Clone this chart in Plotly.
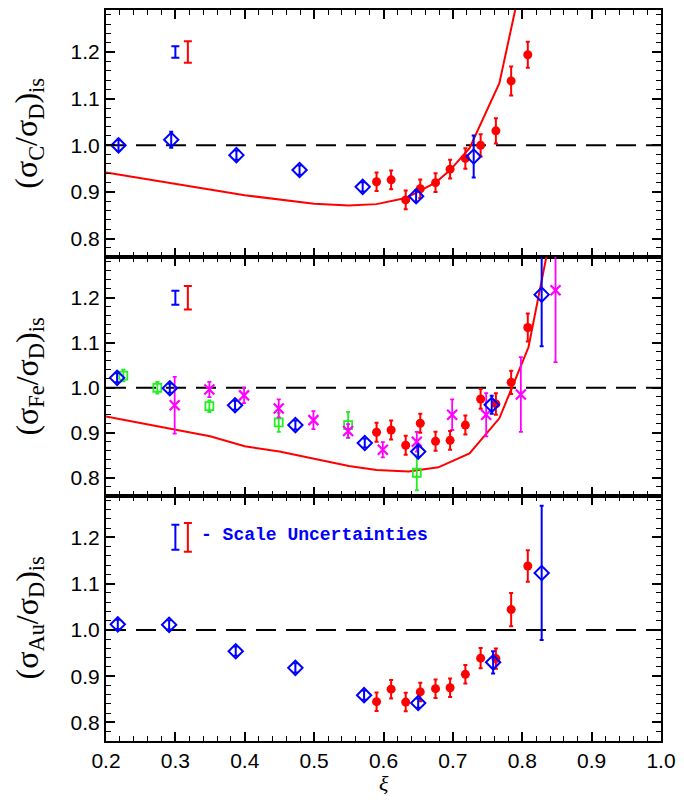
import plotly.graph_objects as go

# ---------------- data ----------------
red_x = [0.590, 0.611, 0.632, 0.653, 0.675, 0.696, 0.718, 0.740, 0.762, 0.784, 0.808]

# Carbon panel
blue_C_x = [0.218, 0.294, 0.388, 0.479, 0.570, 0.647, 0.730]
blue_C_y = [1.000, 1.012, 0.979, 0.947, 0.911, 0.891, 0.976]
blue_C_e = [0.012, 0.017, 0.010, 0.010, 0.010, 0.012, 0.045]
red_C_y = [0.922, 0.926, 0.883, 0.907, 0.920, 0.949, 0.972, 1.000, 1.031, 1.138, 1.194]
red_C_e = [0.020, 0.020, 0.020, 0.020, 0.020, 0.020, 0.022, 0.024, 0.027, 0.031, 0.028]
curve_C_x = [0.20, 0.30, 0.40, 0.50, 0.55, 0.59, 0.632, 0.653, 0.675, 0.696, 0.724, 0.767, 0.80]
curve_C_y = [0.942, 0.917, 0.893, 0.875, 0.871, 0.874, 0.887, 0.903, 0.920, 0.947, 0.994, 1.133, 1.36]

# Iron panel
blue_Fe_x = [0.216, 0.292, 0.386, 0.473, 0.573, 0.650, 0.756, 0.828]
blue_Fe_y = [1.022, 0.999, 0.961, 0.917, 0.877, 0.858, 0.962, 1.207]
blue_Fe_e = [0.010, 0.010, 0.010, 0.010, 0.010, 0.012, 0.020, 0.115]
green_Fe_x = [0.225, 0.274, 0.349, 0.449, 0.549, 0.648]
green_Fe_y = [1.027, 1.000, 0.959, 0.923, 0.917, 0.811]
green_Fe_e = [0.013, 0.013, 0.013, 0.021, 0.029, 0.039]
mag_Fe_x = [0.299, 0.349, 0.399, 0.449, 0.499, 0.549, 0.599, 0.648, 0.699, 0.748, 0.798, 0.848]
mag_Fe_y = [0.961, 0.996, 0.983, 0.954, 0.928, 0.904, 0.862, 0.880, 0.940, 0.940, 0.985, 1.217]
mag_Fe_e = [0.063, 0.017, 0.017, 0.020, 0.020, 0.015, 0.017, 0.022, 0.034, 0.048, 0.083, 0.160]
red_Fe_y = [0.901, 0.906, 0.872, 0.921, 0.881, 0.883, 0.917, 0.975, 0.964, 1.012, 1.134]
red_Fe_e = [0.021, 0.021, 0.021, 0.021, 0.021, 0.021, 0.021, 0.022, 0.024, 0.026, 0.031]
curve_Fe_x = [0.20, 0.30, 0.35, 0.40, 0.45, 0.50, 0.55, 0.59, 0.636, 0.679, 0.724, 0.767, 0.809, 0.85]
curve_Fe_y = [0.936, 0.907, 0.892, 0.870, 0.858, 0.842, 0.826, 0.817, 0.814, 0.823, 0.854, 0.932, 1.090, 1.41]

# Gold panel
blue_Au_x = [0.217, 0.291, 0.387, 0.473, 0.572, 0.650, 0.758, 0.828]
blue_Au_y = [1.012, 1.011, 0.954, 0.918, 0.859, 0.842, 0.930, 1.123]
blue_Au_e = [0.010, 0.010, 0.010, 0.010, 0.010, 0.010, 0.024, 0.145]
red_Au_y = [0.845, 0.872, 0.844, 0.866, 0.873, 0.875, 0.904, 0.939, 0.938, 1.044, 1.138]
red_Au_e = [0.020, 0.020, 0.020, 0.020, 0.020, 0.020, 0.020, 0.022, 0.022, 0.036, 0.034]

# scale uncertainty bars (blue, red)
scale_x = [0.300, 0.318]
scale_y = [1.2, 1.2]
scale_C_e = [0.0125, 0.023]
scale_Fe_e = [0.0155, 0.026]
scale_Au_e = [0.027, 0.031]

x_range = [0.2, 1.0]
ref_y = [1.0, 1.0]
x_ticks = [0.2, 0.3, 0.4, 0.5, 0.6, 0.7, 0.8, 0.9, 1.0]
y_ticks = [0.8, 0.9, 1.0, 1.1, 1.2]

titles = ["(σ<sub>C</sub>/σ<sub>D</sub>)<sub>is</sub>",
          "(σ<sub>Fe</sub>/σ<sub>D</sub>)<sub>is</sub>",
          "(σ<sub>Au</sub>/σ<sub>D</sub>)<sub>is</sub>"]

# ---------------- figure ----------------
BLUE = "#0000ff"
RED = "#ff0000"
GREEN = "#22ee22"
MAG = "#ff00ff"

fig = go.Figure()


def add_panel(k, curve_x, curve_y, blue_x, blue_y, blue_e, red_y, red_e, scale_e,
              green=None, mag=None):
    xa = "x" if k == 1 else f"x{k}"
    ya = "y" if k == 1 else f"y{k}"
    fig.add_trace(go.Scatter(x=x_range, y=ref_y, mode="lines", xaxis=xa, yaxis=ya,
                             line=dict(color="black", width=2, dash="20px,10px"),
                             showlegend=False, hoverinfo="skip"))
    if curve_x:
        fig.add_trace(go.Scatter(x=curve_x, y=curve_y, mode="lines", xaxis=xa, yaxis=ya,
                                 line=dict(color=RED, width=2), showlegend=False))
    for i, c in enumerate([BLUE, RED]):
        fig.add_trace(go.Scatter(x=[scale_x[i]], y=[scale_y[i]], mode="markers",
                                 xaxis=xa, yaxis=ya,
                                 marker=dict(size=1, color=c, opacity=0),
                                 error_y=dict(type="data", array=[scale_e[i]], color=c,
                                              thickness=2, width=4),
                                 showlegend=False))
    if green is not None:
        gx, gy, ge = green
        fig.add_trace(go.Scatter(x=gx, y=gy, mode="markers", xaxis=xa, yaxis=ya,
                                 marker=dict(symbol="square-open", size=8, color=GREEN,
                                             line=dict(width=1.8, color=GREEN)),
                                 error_y=dict(type="data", array=ge, color=GREEN,
                                              thickness=1.8, width=2),
                                 showlegend=False))
    if mag is not None:
        mx, my, me = mag
        fig.add_trace(go.Scatter(x=mx, y=my, mode="markers", xaxis=xa, yaxis=ya,
                                 marker=dict(symbol="x-thin", size=10, color=MAG,
                                             line=dict(width=2.2, color=MAG)),
                                 error_y=dict(type="data", array=me, color=MAG,
                                              thickness=1.8, width=2),
                                 showlegend=False))
    fig.add_trace(go.Scatter(x=red_x, y=red_y, mode="markers", xaxis=xa, yaxis=ya,
                             marker=dict(symbol="circle", size=9, color=RED),
                             error_y=dict(type="data", array=red_e, color=RED,
                                          thickness=2, width=2),
                             showlegend=False))
    fig.add_trace(go.Scatter(x=blue_x, y=blue_y, mode="markers", xaxis=xa, yaxis=ya,
                             marker=dict(symbol="diamond-open", size=11, color=BLUE,
                                         line=dict(width=2, color=BLUE)),
                             error_y=dict(type="data", array=blue_e, color=BLUE,
                                          thickness=2, width=2),
                             showlegend=False))


add_panel(1, curve_C_x, curve_C_y, blue_C_x, blue_C_y, blue_C_e, red_C_y, red_C_e, scale_C_e)
add_panel(2, curve_Fe_x, curve_Fe_y, blue_Fe_x, blue_Fe_y, blue_Fe_e, red_Fe_y, red_Fe_e,
          scale_Fe_e, green=(green_Fe_x, green_Fe_y, green_Fe_e),
          mag=(mag_Fe_x, mag_Fe_y, mag_Fe_e))
add_panel(3, None, None, blue_Au_x, blue_Au_y, blue_Au_e, red_Au_y, red_Au_e, scale_Au_e)

# layout geometry (page has an 8px body margin, so the figure is offset by 8px)
W, H = 668, 786
ml, mr, mt, mb = 98, 7, 0, 53
ph = H - mt - mb
h_bot, h_mid = 246, 239
d_bot = [0, h_bot / ph]
d_mid = [h_bot / ph, (h_bot + h_mid) / ph]
d_top = [(h_bot + h_mid) / ph, 1]
domains = {1: d_top, 2: d_mid, 3: d_bot}

tick_font = dict(family="Liberation Sans, Arial, sans-serif", size=21, color="black")

common_axis = dict(showline=True, linewidth=2.2, linecolor="black", mirror="ticks",
                   ticks="inside", ticklen=9, tickwidth=2, tickcolor="black",
                   showgrid=False, zeroline=False, tickfont=tick_font,
                   ticklabeloverflow="allow",
                   minor=dict(ticks="inside", ticklen=5, tickwidth=1.4, tickcolor="black",
                              showgrid=False))

layout = dict(width=W, height=H, margin=dict(l=ml, r=mr, t=mt, b=mb),
              paper_bgcolor="white", plot_bgcolor="white", showlegend=False)

for k in (1, 2, 3):
    xs = "xaxis" if k == 1 else f"xaxis{k}"
    ys = "yaxis" if k == 1 else f"yaxis{k}"
    ya = "y" if k == 1 else f"y{k}"
    xa = "x" if k == 1 else f"x{k}"
    layout[xs] = dict(common_axis, range=x_range, tickvals=x_ticks, tickformat=".1f",
                      anchor=ya, showticklabels=(k == 3),
                      minor=dict(common_axis["minor"], dtick=0.02, tick0=0.2))
    layout[ys] = dict(common_axis, range=[0.76, 1.29], tickvals=y_ticks, tickformat=".1f",
                      anchor=xa, domain=domains[k],
                      minor=dict(common_axis["minor"], dtick=0.02, tick0=0.8))

fig.update_layout(**layout)

annotations = []
for k in (1, 2, 3):
    d = domains[k]
    annotations.append(dict(text=titles[k - 1], xref="paper", yref="paper",
                            x=-78 / (W - ml - mr), y=(d[0] + d[1]) / 2,
                            xanchor="center", yanchor="middle", textangle=-90,
                            showarrow=False,
                            font=dict(family="Liberation Serif, serif", size=32,
                                      color="black")))
annotations.append(dict(text="<i>ξ</i>", xref="paper", yref="paper", x=0.5, y=0,
                        yshift=-28, xanchor="center", yanchor="top", showarrow=False,
                        font=dict(family="Liberation Serif, serif", size=22,
                                  color="black")))
annotations.append(dict(text="<b>- Scale Uncertainties</b>", xref="x3", yref="y3",
                        x=0.334, y=1.205, xanchor="left", yanchor="middle",
                        showarrow=False,
                        font=dict(family="Liberation Mono, Courier New, monospace",
                                  size=18, color=BLUE)))
fig.update_layout(annotations=annotations)

fig.write_html("out.html")
